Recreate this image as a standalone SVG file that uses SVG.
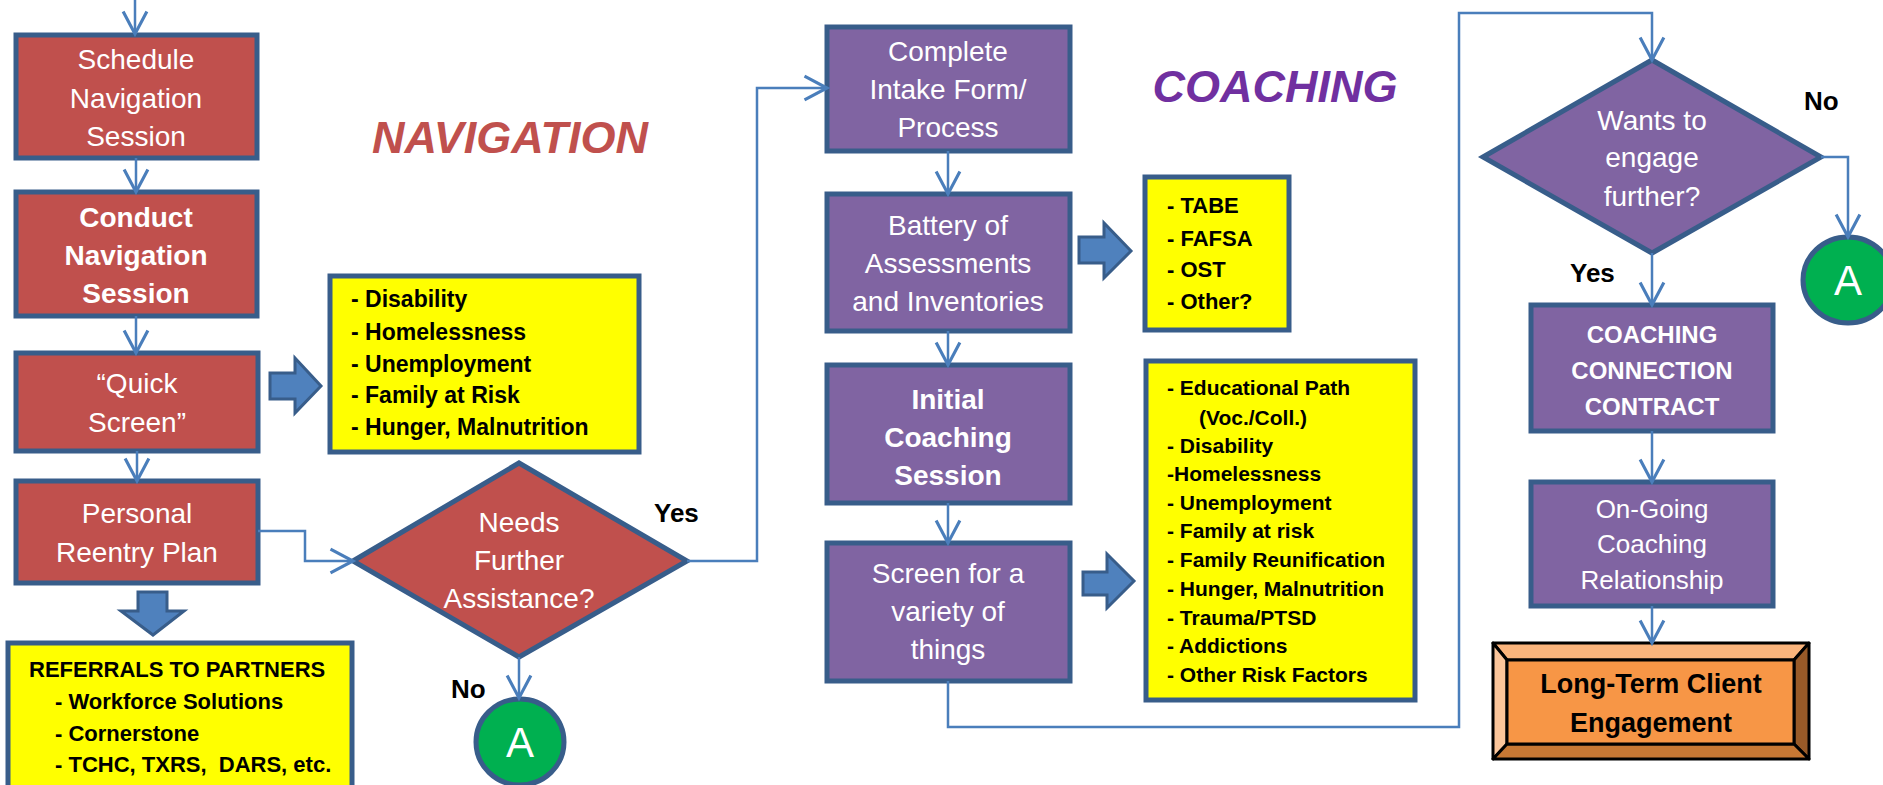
<svg xmlns="http://www.w3.org/2000/svg" width="1883" height="785" viewBox="0 0 1883 785">
<defs>
<marker id="arr" markerUnits="userSpaceOnUse" markerWidth="30" markerHeight="30" viewBox="-20 -12 22 24" refX="0" refY="0" orient="auto">
<path d="M-18,-9.5 L0,0 L-18,9.5" fill="none" stroke="#4A7EBB" stroke-width="2.5"/>
</marker>
</defs>
<style>
.red{fill:#C0504D;stroke:#385D8A;stroke-width:5}
.pur{fill:#8064A2;stroke:#385D8A;stroke-width:5}
.yel{fill:#FFFF00;stroke:#385D8A;stroke-width:5}
.grn{fill:#00B050;stroke:#385D8A;stroke-width:5}
.blk{fill:#4F81BD;stroke:#385D8A;stroke-width:3}
.con{fill:none;stroke:#4A7EBB;stroke-width:2.5;marker-end:url(#arr)}
text{font-family:"Liberation Sans",Arial,sans-serif}
.wt{fill:#fff;font-size:28px;text-anchor:middle}
.wb{fill:#fff;font-size:28px;font-weight:bold;text-anchor:middle}
.yt{fill:#000;font-size:23px;font-weight:bold}
.yr{fill:#000;font-size:22px;font-weight:bold}
.ys{fill:#000;font-size:21px;font-weight:bold}
.lbl{fill:#000;font-size:26px;font-weight:bold}
.bev{stroke:#000;stroke-width:3;stroke-linejoin:round}
</style>

<g id="title-navigation"><text x="510" y="153" font-size="45" font-weight="bold" font-style="italic" fill="#C0504D" text-anchor="middle">NAVIGATION</text></g>
<g id="title-coaching"><text x="1275" y="102" font-size="45" font-weight="bold" font-style="italic" fill="#7030A0" text-anchor="middle">COACHING</text></g>

<g id="schedule"><rect class="red" x="16" y="35" width="241" height="123"/>
<text class="wt" x="136" y="69">Schedule</text><text class="wt" x="136" y="108">Navigation</text><text class="wt" x="136" y="146">Session</text></g>

<g id="conduct"><rect class="red" x="16" y="192" width="241" height="124"/>
<text class="wb" x="136" y="227">Conduct</text><text class="wb" x="136" y="265">Navigation</text><text class="wb" x="136" y="303">Session</text></g>

<g id="quickscreen"><rect class="red" x="16" y="353" width="242" height="98"/>
<text class="wt" x="137" y="393">“Quick</text><text class="wt" x="137" y="432">Screen”</text></g>

<g id="arrow-quick"><path class="blk" d="M270,373 H295 V358 L321,386 L295,413 V399 H270 Z"/></g>

<g id="risks1"><rect class="yel" x="330" y="276" width="309" height="176"/>
<text class="yt" x="351" y="307">- Disability</text>
<text class="yt" x="351" y="340">- Homelessness</text>
<text class="yt" x="351" y="372">- Unemployment</text>
<text class="yt" x="351" y="403">- Family at Risk</text>
<text class="yt" x="351" y="435">- Hunger, Malnutrition</text></g>

<g id="personal"><rect class="red" x="16" y="481" width="242" height="102"/>
<text class="wt" x="137" y="523">Personal</text><text class="wt" x="137" y="562">Reentry Plan</text></g>

<g id="arrow-personal"><path class="blk" d="M138,592 H167 V611 H184 L153,635 L121,611 H138 Z"/></g>

<g id="referrals"><rect class="yel" x="8" y="643" width="344" height="160"/>
<text class="yr" x="29" y="677" font-size="21">REFERRALS TO PARTNERS</text>
<text class="yr" x="55" y="709">- Workforce Solutions</text>
<text class="yr" x="55" y="741">- Cornerstone</text>
<text class="yr" x="55" y="772" xml:space="preserve">- TCHC, TXRS,  DARS, etc.</text></g>

<g id="needs-assistance"><path class="red" d="M353,561 L519,463 L687,561 L519,657 Z"/>
<text class="wt" x="519" y="532">Needs</text><text class="wt" x="519" y="570">Further</text><text class="wt" x="519" y="608">Assistance?</text></g>

<g id="connector-a1"><ellipse class="grn" cx="520" cy="742" rx="44" ry="43"/>
<text x="520" y="757" font-size="42" fill="#fff" text-anchor="middle">A</text></g>

<g id="complete-intake"><rect class="pur" x="827" y="27" width="243" height="124"/>
<text class="wt" x="948" y="61">Complete</text><text class="wt" x="948" y="99">Intake Form/</text><text class="wt" x="948" y="137">Process</text></g>

<g id="battery"><rect class="pur" x="827" y="194" width="243" height="137"/>
<text class="wt" x="948" y="235">Battery of</text><text class="wt" x="948" y="273">Assessments</text><text class="wt" x="948" y="311">and Inventories</text></g>

<g id="arrow-battery"><path class="blk" d="M1079,237 H1104 V223 L1131,251 L1104,278 V263 H1079 Z"/></g>

<g id="assessments"><rect class="yel" x="1145" y="177" width="144" height="153"/>
<text class="yr" x="1167" y="213">- TABE</text>
<text class="yr" x="1167" y="246">- FAFSA</text>
<text class="yr" x="1167" y="277">- OST</text>
<text class="yr" x="1167" y="309">- Other?</text></g>

<g id="initial-coaching"><rect class="pur" x="827" y="365" width="243" height="138"/>
<text class="wb" x="948" y="409">Initial</text><text class="wb" x="948" y="447">Coaching</text><text class="wb" x="948" y="485">Session</text></g>

<g id="screen-variety"><rect class="pur" x="827" y="543" width="243" height="138"/>
<text class="wt" x="948" y="583">Screen for a</text><text class="wt" x="948" y="621">variety of</text><text class="wt" x="948" y="659">things</text></g>

<g id="arrow-screen"><path class="blk" d="M1083,572 H1107 V554 L1134,581 L1107,608 V595 H1083 Z"/></g>

<g id="risks2"><rect class="yel" x="1146" y="361" width="269" height="339"/>
<text class="ys" x="1167" y="395">- Educational Path</text>
<text class="ys" x="1199" y="425">(Voc./Coll.)</text>
<text class="ys" x="1167" y="453">- Disability</text>
<text class="ys" x="1167" y="481">-Homelessness</text>
<text class="ys" x="1167" y="510">- Unemployment</text>
<text class="ys" x="1167" y="538">- Family at risk</text>
<text class="ys" x="1167" y="567">- Family Reunification</text>
<text class="ys" x="1167" y="596">- Hunger, Malnutrition</text>
<text class="ys" x="1167" y="625">- Trauma/PTSD</text>
<text class="ys" x="1167" y="653">- Addictions</text>
<text class="ys" x="1167" y="682">- Other Risk Factors</text></g>

<g id="wants-engage"><path class="pur" d="M1483,157 L1652,60 L1821,157 L1652,253 Z"/>
<text class="wt" x="1652" y="130">Wants to</text><text class="wt" x="1652" y="167">engage</text><text class="wt" x="1652" y="206">further?</text></g>

<g id="connector-a2"><ellipse class="grn" cx="1848" cy="280" rx="45" ry="43"/>
<text x="1848" y="295" font-size="42" fill="#fff" text-anchor="middle">A</text></g>

<g id="contract"><rect class="pur" x="1531" y="305" width="242" height="126"/>
<text x="1652" y="343" font-size="24" font-weight="bold" fill="#fff" text-anchor="middle">COACHING</text>
<text x="1652" y="379" font-size="24" font-weight="bold" fill="#fff" text-anchor="middle">CONNECTION</text>
<text x="1652" y="415" font-size="24" font-weight="bold" fill="#fff" text-anchor="middle">CONTRACT</text></g>

<g id="ongoing"><rect class="pur" x="1531" y="482" width="242" height="124"/>
<text x="1652" y="518" font-size="26" fill="#fff" text-anchor="middle">On-Going</text>
<text x="1652" y="553" font-size="26" fill="#fff" text-anchor="middle">Coaching</text>
<text x="1652" y="589" font-size="26" fill="#fff" text-anchor="middle">Relationship</text></g>

<g id="long-term">
<polygon class="bev" fill="#FAB47C" points="1493,643 1809,643 1794,660 1507,660"/>
<polygon class="bev" fill="#FBC59A" points="1493,643 1507,660 1507,744 1493,759"/>
<polygon class="bev" fill="#985A28" points="1809,643 1809,759 1794,744 1794,660"/>
<polygon class="bev" fill="#C77834" points="1493,759 1809,759 1794,744 1507,744"/>
<rect class="bev" fill="#F79646" x="1507" y="660" width="287" height="84"/>
<text x="1651" y="693" font-size="27" font-weight="bold" fill="#000" text-anchor="middle">Long-Term Client</text>
<text x="1651" y="732" font-size="27" font-weight="bold" fill="#000" text-anchor="middle">Engagement</text></g>

<g id="labels">
<text class="lbl" x="654" y="522">Yes</text>
<text class="lbl" x="451" y="698">No</text>
<text class="lbl" x="1804" y="110">No</text>
<text class="lbl" x="1570" y="282">Yes</text>
</g>

<g id="connectors">
<path class="con" d="M135,0 V34"/>
<path class="con" d="M136,158 V192"/>
<path class="con" d="M136,316 V353"/>
<path class="con" d="M137,451 V481"/>
<path class="con" d="M258,531 H305 V561 H353"/>
<path class="con" d="M519,657 V698"/>
<path class="con" d="M687,561 H757 V88 H827"/>
<path class="con" d="M948,151 V194"/>
<path class="con" d="M948,331 V365"/>
<path class="con" d="M948,503 V543"/>
<path class="con" d="M948,681 V727 H1459 V13 H1652 V60"/>
<path class="con" d="M1652,253 V305"/>
<path class="con" d="M1821,157 H1848 V237"/>
<path class="con" d="M1652,431 V482"/>
<path class="con" d="M1652,606 V643"/>
</g>
</svg>
